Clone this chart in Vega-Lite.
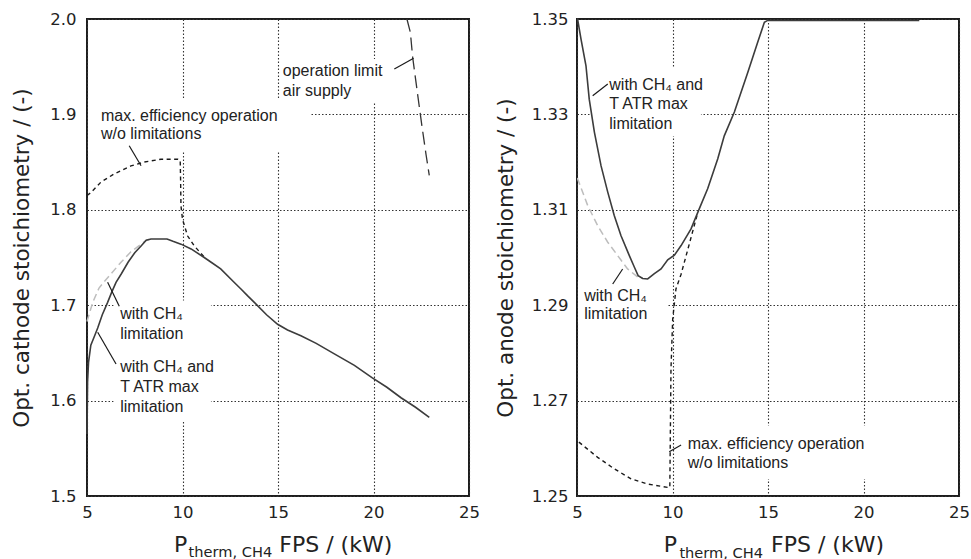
{
  "$schema": "https://vega.github.io/schema/vega-lite/v6.json",
  "background": "white",
  "padding": {"left": 10, "top": 10, "right": 5, "bottom": 0},
  "spacing": 13,
  "datasets": {
    "cath": [
      {"s": "tatr", "x": 5.0, "y": 1.565}, {"s": "tatr", "x": 5.03, "y": 1.62}, {"s": "tatr", "x": 5.08, "y": 1.64}, {"s": "tatr", "x": 5.2, "y": 1.658}, {"s": "tatr", "x": 5.4, "y": 1.668}, {"s": "tatr", "x": 5.56, "y": 1.676}, {"s": "tatr", "x": 5.8, "y": 1.69}, {"s": "tatr", "x": 6.08, "y": 1.703}, {"s": "tatr", "x": 6.3, "y": 1.714}, {"s": "tatr", "x": 6.52, "y": 1.724}, {"s": "tatr", "x": 6.8, "y": 1.733}, {"s": "tatr", "x": 7.15, "y": 1.745}, {"s": "tatr", "x": 7.5, "y": 1.755}, {"s": "tatr", "x": 7.83, "y": 1.762}, {"s": "tatr", "x": 8.1, "y": 1.768}, {"s": "tatr", "x": 8.35, "y": 1.7694}, {"s": "tatr", "x": 9.19, "y": 1.7694}, {"s": "tatr", "x": 9.5, "y": 1.767}, {"s": "tatr", "x": 9.92, "y": 1.764}, {"s": "tatr", "x": 10.45, "y": 1.759}, {"s": "tatr", "x": 11.1, "y": 1.7505}, {"s": "tatr", "x": 11.5, "y": 1.745}, {"s": "tatr", "x": 12.0, "y": 1.738}, {"s": "tatr", "x": 12.7, "y": 1.724}, {"s": "tatr", "x": 13.06, "y": 1.717}, {"s": "tatr", "x": 13.4, "y": 1.71}, {"s": "tatr", "x": 13.76, "y": 1.703}, {"s": "tatr", "x": 14.4, "y": 1.69}, {"s": "tatr", "x": 14.98, "y": 1.68}, {"s": "tatr", "x": 15.5, "y": 1.674}, {"s": "tatr", "x": 16.2, "y": 1.668}, {"s": "tatr", "x": 17.0, "y": 1.66}, {"s": "tatr", "x": 17.95, "y": 1.649}, {"s": "tatr", "x": 19.0, "y": 1.637}, {"s": "tatr", "x": 19.92, "y": 1.624}, {"s": "tatr", "x": 20.7, "y": 1.614}, {"s": "tatr", "x": 21.44, "y": 1.603}, {"s": "tatr", "x": 22.2, "y": 1.593}, {"s": "tatr", "x": 22.92, "y": 1.5825},
      {"s": "ch4", "x": 5.0, "y": 1.683}, {"s": "ch4", "x": 5.3, "y": 1.703}, {"s": "ch4", "x": 5.63, "y": 1.718}, {"s": "ch4", "x": 6.0, "y": 1.727}, {"s": "ch4", "x": 6.26, "y": 1.733}, {"s": "ch4", "x": 6.78, "y": 1.745}, {"s": "ch4", "x": 7.3, "y": 1.756}, {"s": "ch4", "x": 7.83, "y": 1.764}, {"s": "ch4", "x": 8.1, "y": 1.768}, {"s": "ch4", "x": 8.35, "y": 1.7694},
      {"s": "maxeff", "x": 5.0, "y": 1.815}, {"s": "maxeff", "x": 5.2, "y": 1.818}, {"s": "maxeff", "x": 5.73, "y": 1.829}, {"s": "maxeff", "x": 6.41, "y": 1.8375}, {"s": "maxeff", "x": 7.3, "y": 1.846}, {"s": "maxeff", "x": 7.98, "y": 1.85}, {"s": "maxeff", "x": 8.87, "y": 1.853}, {"s": "maxeff", "x": 9.76, "y": 1.853}, {"s": "maxeff", "x": 9.88, "y": 1.852}, {"s": "maxeff", "x": 9.9, "y": 1.832}, {"s": "maxeff", "x": 9.92, "y": 1.804}, {"s": "maxeff", "x": 10.0, "y": 1.79}, {"s": "maxeff", "x": 10.27, "y": 1.7725}, {"s": "maxeff", "x": 10.62, "y": 1.762}, {"s": "maxeff", "x": 11.14, "y": 1.7505},
      {"s": "air", "x": 21.75, "y": 2.0}, {"s": "air", "x": 21.93, "y": 1.986}, {"s": "air", "x": 22.05, "y": 1.96}, {"s": "air", "x": 22.31, "y": 1.921}, {"s": "air", "x": 22.52, "y": 1.89}, {"s": "air", "x": 22.75, "y": 1.858}, {"s": "air", "x": 22.92, "y": 1.836}
    ],
    "anod": [
      {"s": "tatr", "x": 5.0, "y": 1.35}, {"s": "tatr", "x": 5.03, "y": 1.35}, {"s": "tatr", "x": 5.21, "y": 1.3458}, {"s": "tatr", "x": 5.47, "y": 1.3402}, {"s": "tatr", "x": 5.64, "y": 1.3332}, {"s": "tatr", "x": 5.91, "y": 1.3263}, {"s": "tatr", "x": 6.26, "y": 1.3192}, {"s": "tatr", "x": 6.61, "y": 1.3137}, {"s": "tatr", "x": 6.95, "y": 1.3088}, {"s": "tatr", "x": 7.3, "y": 1.3046}, {"s": "tatr", "x": 7.74, "y": 1.3004}, {"s": "tatr", "x": 8.0, "y": 1.298}, {"s": "tatr", "x": 8.2, "y": 1.2962}, {"s": "tatr", "x": 8.44, "y": 1.2956}, {"s": "tatr", "x": 8.7, "y": 1.2955}, {"s": "tatr", "x": 9.05, "y": 1.2966}, {"s": "tatr", "x": 9.4, "y": 1.2976}, {"s": "tatr", "x": 9.75, "y": 1.2995}, {"s": "tatr", "x": 10.1, "y": 1.3005}, {"s": "tatr", "x": 10.45, "y": 1.3025}, {"s": "tatr", "x": 10.97, "y": 1.306}, {"s": "tatr", "x": 11.4, "y": 1.3102}, {"s": "tatr", "x": 11.84, "y": 1.3144}, {"s": "tatr", "x": 12.37, "y": 1.3207}, {"s": "tatr", "x": 12.71, "y": 1.3255}, {"s": "tatr", "x": 13.24, "y": 1.3305}, {"s": "tatr", "x": 13.94, "y": 1.3388}, {"s": "tatr", "x": 14.46, "y": 1.3451}, {"s": "tatr", "x": 14.81, "y": 1.3493}, {"s": "tatr", "x": 14.98, "y": 1.3497}, {"s": "tatr", "x": 22.92, "y": 1.3497},
      {"s": "ch4", "x": 5.0, "y": 1.3165}, {"s": "ch4", "x": 5.03, "y": 1.3165}, {"s": "ch4", "x": 5.56, "y": 1.3109}, {"s": "ch4", "x": 6.08, "y": 1.3067}, {"s": "ch4", "x": 6.61, "y": 1.3032}, {"s": "ch4", "x": 7.13, "y": 1.3004}, {"s": "ch4", "x": 7.65, "y": 1.2976}, {"s": "ch4", "x": 8.18, "y": 1.2959}, {"s": "ch4", "x": 8.44, "y": 1.2956},
      {"s": "maxeff", "x": 5.1, "y": 1.2613}, {"s": "maxeff", "x": 6.08, "y": 1.2581}, {"s": "maxeff", "x": 6.95, "y": 1.2557}, {"s": "maxeff", "x": 7.83, "y": 1.2536}, {"s": "maxeff", "x": 8.7, "y": 1.2525}, {"s": "maxeff", "x": 9.75, "y": 1.2518}, {"s": "maxeff", "x": 9.86, "y": 1.2518}, {"s": "maxeff", "x": 9.88, "y": 1.2599}, {"s": "maxeff", "x": 9.92, "y": 1.2766}, {"s": "maxeff", "x": 10.01, "y": 1.2871}, {"s": "maxeff", "x": 10.18, "y": 1.2934}, {"s": "maxeff", "x": 10.45, "y": 1.2965}, {"s": "maxeff", "x": 10.87, "y": 1.3027}, {"s": "maxeff", "x": 11.28, "y": 1.3088}
    ],
    "cathNotes": [
      {"x": 5.73, "y": 1.8934, "t": "max. efficiency operation"},
      {"x": 5.73, "y": 1.8742, "t": "w/o limitations"},
      {"x": 15.25, "y": 1.9406, "t": "operation limit"},
      {"x": 15.25, "y": 1.9196, "t": "air supply"},
      {"x": 6.74, "y": 1.6855, "t": "with CH₄"},
      {"x": 6.74, "y": 1.6646, "t": "limitation"},
      {"x": 6.74, "y": 1.6297, "t": "with CH₄ and"},
      {"x": 6.74, "y": 1.6087, "t": "T ATR max"},
      {"x": 6.74, "y": 1.5877, "t": "limitation"}
    ],
    "anodNotes": [
      {"x": 6.69, "y": 1.33518, "t": "with CH₄ and"},
      {"x": 6.69, "y": 1.33113, "t": "T ATR max"},
      {"x": 6.69, "y": 1.32694, "t": "limitation"},
      {"x": 5.38, "y": 1.29094, "t": "with CH₄"},
      {"x": 5.38, "y": 1.28711, "t": "limitation"},
      {"x": 10.8, "y": 1.25985, "t": "max. efficiency operation"},
      {"x": 10.8, "y": 1.2558, "t": "w/o limitations"}
    ],
    "cathLeaders": [
      {"x": 7.21, "y": 1.8672, "x2": 7.83, "y2": 1.8462},
      {"x": 21.09, "y": 1.9476, "x2": 22.1, "y2": 1.9588},
      {"x": 6.08, "y": 1.724, "x2": 6.69, "y2": 1.699},
      {"x": 5.56, "y": 1.6716, "x2": 6.52, "y2": 1.6384}
    ],
    "anodLeaders": [
      {"x": 5.82, "y": 1.33392, "x2": 6.61, "y2": 1.33637},
      {"x": 6.87, "y": 1.29444, "x2": 7.39, "y2": 1.29759},
      {"x": 9.83, "y": 1.25929, "x2": 10.45, "y2": 1.26069}
    ],
    "cathBoxes": [
      {"x": 5.05, "x2": 16.73, "y": 1.9161, "y2": 1.8616},
      {"x": 15.1, "x2": 20.92, "y": 1.958, "y2": 1.913},
      {"x": 6.4, "x2": 11.49, "y": 1.705, "y2": 1.5776}
    ],
    "anodBoxes": [
      {"x": 5.73, "x2": 11.49, "y": 1.33994, "y2": 1.32547},
      {"x": 5.05, "x2": 9.76, "y": 1.29507, "y2": 1.28606},
      {"x": 10.55, "x2": 20.65, "y": 1.26474, "y2": 1.25356}
    ],
    "cathXTitle": [
      {"x": 9.555, "y": 1.4416, "t": "P", "part": "main"},
      {"x": 10.32, "y": 1.4357, "t": "therm, CH4", "part": "sub"},
      {"x": 15.07, "y": 1.4416, "t": "FPS / (kW)", "part": "main"}
    ],
    "anodXTitle": [
      {"x": 9.54, "y": 1.2383, "t": "P", "part": "main"},
      {"x": 10.36, "y": 1.2371, "t": "therm, CH4", "part": "sub"},
      {"x": 15.16, "y": 1.2383, "t": "FPS / (kW)", "part": "main"}
    ]
  },
  "hconcat": [
    {
      "width": 382,
      "height": 477,
      "encoding": {
        "x": {"field": "x", "type": "quantitative", "scale": {"domain": [5, 25], "nice": false, "zero": false}, "axis": {"values": [5, 10, 15, 20, 25], "title": null}},
        "y": {"field": "y", "type": "quantitative", "scale": {"domain": [1.5, 2.0], "nice": false, "zero": false}, "axis": {"values": [1.5, 1.6, 1.7, 1.8, 1.9, 2.0], "format": ".1f", "title": "Opt. cathode stoichiometry / (-)", "titlePadding": 16, "labelPadding": 11}}
      },
      "layer": [
        {"data": {"name": "cathBoxes"}, "mark": {"type": "rect", "fill": "white", "stroke": null}, "encoding": {"x2": {"field": "x2"}, "y2": {"field": "y2"}}},
        {"data": {"name": "cath"}, "transform": [{"filter": "datum.s === 'ch4'"}], "mark": {"type": "line", "color": "#bdbdbd", "strokeWidth": 1.5, "strokeDash": [7, 4]}, "encoding": {"order": {"value": null}}},
        {"data": {"name": "cath"}, "transform": [{"filter": "datum.s === 'maxeff'"}], "mark": {"type": "line", "color": "#1a1a1a", "strokeWidth": 1.4, "strokeDash": [4, 3.5]}, "encoding": {"order": {"value": null}}},
        {"data": {"name": "cath"}, "transform": [{"filter": "datum.s === 'air'"}], "mark": {"type": "line", "color": "#333333", "strokeWidth": 1.3, "strokeDash": [13, 6]}, "encoding": {"order": {"value": null}}},
        {"data": {"name": "cath"}, "transform": [{"filter": "datum.s === 'tatr'"}], "mark": {"type": "line", "color": "#3c3c3c", "strokeWidth": 1.6}, "encoding": {"order": {"value": null}}},
        {"data": {"name": "cathLeaders"}, "mark": {"type": "rule", "color": "#1a1a1a", "strokeWidth": 1.2}, "encoding": {"x2": {"field": "x2"}, "y2": {"field": "y2"}}},
        {"data": {"name": "cathNotes"}, "mark": {"type": "text", "align": "left", "baseline": "alphabetic", "font": "Liberation Sans", "fontSize": 16, "color": "#222222"}, "encoding": {"text": {"field": "t"}}},
        {"data": {"name": "cathXTitle"}, "transform": [{"filter": "datum.part === 'main'"}], "mark": {"type": "text", "align": "left", "baseline": "alphabetic", "font": "DejaVu Sans", "fontSize": 22, "color": "#222222"}, "encoding": {"text": {"field": "t"}}},
        {"data": {"name": "cathXTitle"}, "transform": [{"filter": "datum.part === 'sub'"}], "mark": {"type": "text", "align": "left", "baseline": "alphabetic", "font": "DejaVu Sans", "fontSize": 14.6, "color": "#222222"}, "encoding": {"text": {"field": "t"}}}
      ]
    },
    {
      "width": 382,
      "height": 477,
      "encoding": {
        "x": {"field": "x", "type": "quantitative", "scale": {"domain": [5, 25], "nice": false, "zero": false}, "axis": {"values": [5, 10, 15, 20, 25], "title": null}},
        "y": {"field": "y", "type": "quantitative", "scale": {"domain": [1.25, 1.35], "nice": false, "zero": false}, "axis": {"values": [1.25, 1.27, 1.29, 1.31, 1.33, 1.35], "format": ".2f", "title": "Opt. anode stoichiometry / (-)", "titlePadding": 14, "labelPadding": 9}}
      },
      "layer": [
        {"data": {"name": "anodBoxes"}, "mark": {"type": "rect", "fill": "white", "stroke": null}, "encoding": {"x2": {"field": "x2"}, "y2": {"field": "y2"}}},
        {"data": {"name": "anod"}, "transform": [{"filter": "datum.s === 'ch4'"}], "mark": {"type": "line", "color": "#bdbdbd", "strokeWidth": 1.5, "strokeDash": [7, 4]}, "encoding": {"order": {"value": null}}},
        {"data": {"name": "anod"}, "transform": [{"filter": "datum.s === 'maxeff'"}], "mark": {"type": "line", "color": "#1a1a1a", "strokeWidth": 1.4, "strokeDash": [4, 3.5]}, "encoding": {"order": {"value": null}}},
        {"data": {"name": "anod"}, "transform": [{"filter": "datum.s === 'tatr'"}], "mark": {"type": "line", "color": "#3c3c3c", "strokeWidth": 1.6}, "encoding": {"order": {"value": null}}},
        {"data": {"name": "anodLeaders"}, "mark": {"type": "rule", "color": "#1a1a1a", "strokeWidth": 1.2}, "encoding": {"x2": {"field": "x2"}, "y2": {"field": "y2"}}},
        {"data": {"name": "anodNotes"}, "mark": {"type": "text", "align": "left", "baseline": "alphabetic", "font": "Liberation Sans", "fontSize": 16, "color": "#222222"}, "encoding": {"text": {"field": "t"}}},
        {"data": {"name": "anodXTitle"}, "transform": [{"filter": "datum.part === 'main'"}], "mark": {"type": "text", "align": "left", "baseline": "alphabetic", "font": "DejaVu Sans", "fontSize": 22, "color": "#222222"}, "encoding": {"text": {"field": "t"}}},
        {"data": {"name": "anodXTitle"}, "transform": [{"filter": "datum.part === 'sub'"}], "mark": {"type": "text", "align": "left", "baseline": "alphabetic", "font": "DejaVu Sans", "fontSize": 14.6, "color": "#222222"}, "encoding": {"text": {"field": "t"}}}
      ]
    }
  ],
  "config": {
    "view": {"stroke": "#1e1e1e", "strokeWidth": 2},
    "axis": {
      "grid": true, "gridColor": "#333333", "gridDash": [1.5, 2], "gridWidth": 1.1, "gridOpacity": 1,
      "domain": false, "ticks": false,
      "labelFont": "DejaVu Sans", "labelFontSize": 16.5, "labelColor": "#222222", "labelPadding": 10,
      "titleFont": "DejaVu Sans", "titleFontSize": 21.5, "titleFontWeight": "normal", "titleColor": "#222222"
    },
    "axisX": {"labelPadding": 8, "labelFlush": false, "labelOverlap": false},
    "axisY": {"labelOverlap": false}
  }
}
